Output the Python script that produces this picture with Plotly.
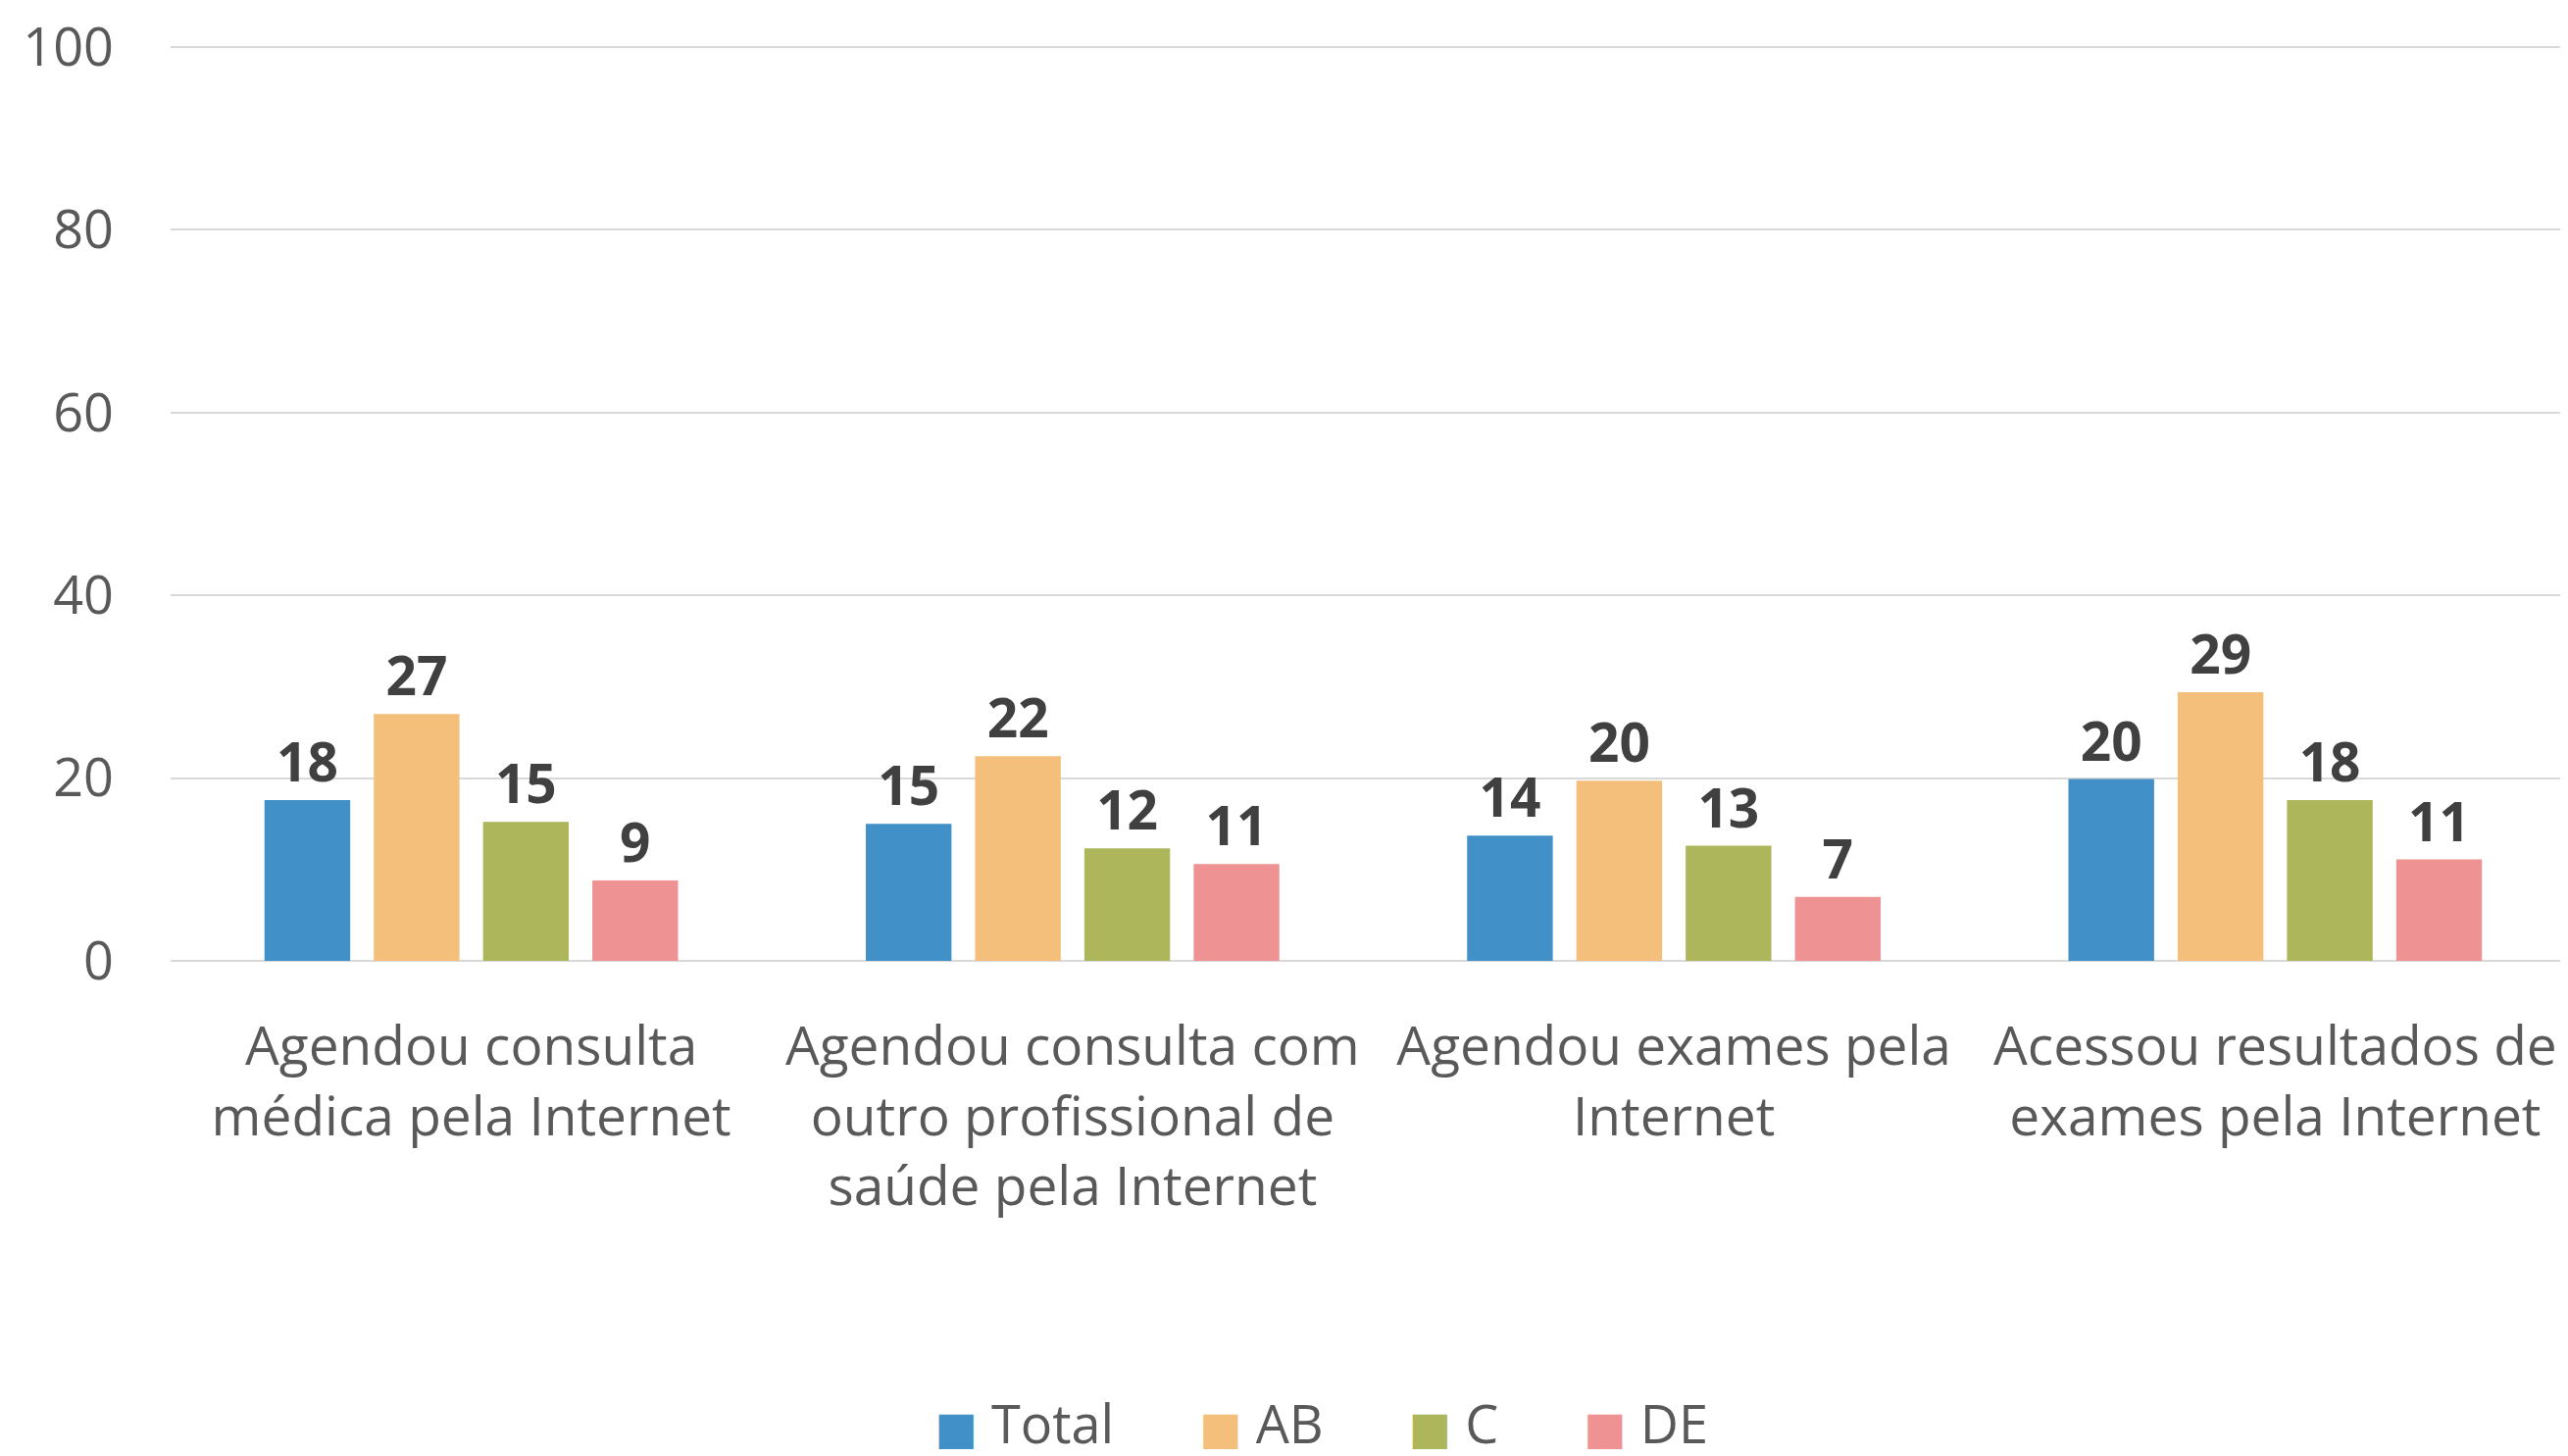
import plotly.graph_objects as go

categories = [
    "Agendou consulta<br>médica pela Internet",
    "Agendou consulta com<br>outro profissional de<br>saúde pela Internet",
    "Agendou exames pela<br>Internet",
    "Acessou resultados de<br>exames pela Internet",
]
series_names = ["Total", "AB", "C", "DE"]
total_vals = [17.6, 15.0, 13.7, 19.9]
ab_vals = [27.0, 22.4, 19.7, 29.4]
c_vals = [15.2, 12.3, 12.6, 17.6]
de_vals = [8.8, 10.6, 7.0, 11.1]
colors = ["#4191C8", "#F3BF7B", "#ADB65A", "#EF9294"]
y_ticks = [0, 20, 40, 60, 80, 100]

FONT = "Open Sans"
fig = go.Figure()
for name, vals, col in zip(series_names, [total_vals, ab_vals, c_vals, de_vals], colors):
    fig.add_trace(go.Bar(
        name=name, x=categories, y=vals, marker_color=col, marker_line_width=0,
        text=[f"{round(v):d}" for v in vals], textposition="outside",
        textfont=dict(family=FONT, size=55, color="#404040", weight="bold"),
        cliponaxis=False, showlegend=False,
    ))

# legend entries with large square swatches
NB = "\u00a0"
for name, col in zip(series_names, colors):
    fig.add_trace(go.Scatter(
        x=[None], y=[None], mode="lines", line=dict(width=0, color=col),
        name=(f'<span style="font-family:DejaVu Sans;font-size:46px;color:{col}">■</span>'
              f'{NB}{name}{NB * 3}'),
        showlegend=True, hoverinfo="skip",
    ))

fig.update_layout(
    width=2619, height=1485,
    margin=dict(l=166, r=0, t=38, b=513),
    plot_bgcolor="white", paper_bgcolor="white",
    barmode="group", bargap=0.273, bargroupgap=0.216,
    font=dict(family=FONT, color="#595959", size=54),
    legend=dict(orientation="h", x=0.48, xanchor="center", y=-0.505, yanchor="middle",
                font=dict(size=54, color="#595959"), itemwidth=30,
                traceorder="normal"),
)
fig.update_yaxes(range=[0, 100.2], tickvals=y_ticks, showgrid=True, gridcolor="#D9D9D9",
                 gridwidth=2, zeroline=True, zerolinecolor="#D9D9D9", zerolinewidth=2,
                 showline=False, ticks="", ticklabelstandoff=57,
                 ticklabeloverflow="allow",
                 tickfont=dict(size=54, color="#595959"))
fig.update_xaxes(showgrid=False, showline=False, ticks="", tickangle=0,
                 ticklabelstandoff=50, ticklabeloverflow="allow",
                 tickfont=dict(size=55, color="#595959"))

fig.write_html("out.html")
